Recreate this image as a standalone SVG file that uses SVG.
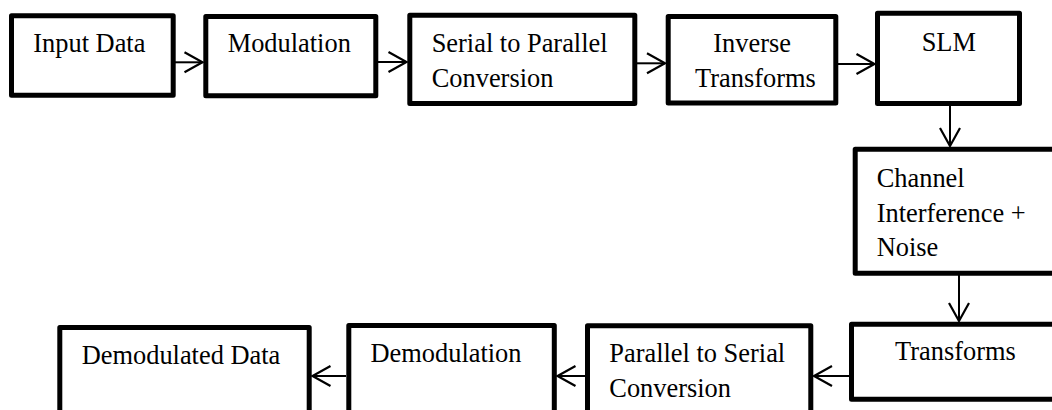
<svg xmlns="http://www.w3.org/2000/svg" width="1052" height="410" viewBox="0 0 1052 410">
<style>
.box{fill:#fff;stroke:#000;stroke-width:5;stroke-linejoin:round}
.lbl{font-family:"Liberation Serif","Times New Roman",serif;font-size:26.4px;fill:#000}
.con{stroke:#000;stroke-width:2;fill:none}
</style>
<defs>
<marker id="ah" markerUnits="userSpaceOnUse" markerWidth="24" markerHeight="24" viewBox="-20 -12 22 24" refX="0" refY="0" orient="auto">
<path d="M-18,-10 L0,0 L-18,10" fill="none" stroke="#000" stroke-width="2.2"/>
</marker>
</defs>
<rect width="1052" height="410" fill="#fff"/>
<g id="connectors">
<line class="con" x1="175" y1="62.3" x2="202.5" y2="62.3" marker-end="url(#ah)"/>
<line class="con" x1="378" y1="62" x2="406.5" y2="62" marker-end="url(#ah)"/>
<line class="con" x1="637" y1="63.3" x2="665" y2="63.3" marker-end="url(#ah)"/>
<line class="con" x1="838" y1="64" x2="874.5" y2="64" marker-end="url(#ah)"/>
<line class="con" x1="950" y1="106" x2="950" y2="146" marker-end="url(#ah)"/>
<line class="con" x1="959" y1="275" x2="959" y2="321" marker-end="url(#ah)"/>
<line class="con" x1="849" y1="376" x2="814" y2="376" marker-end="url(#ah)"/>
<line class="con" x1="585" y1="376" x2="557.5" y2="376" marker-end="url(#ah)"/>
<line class="con" x1="346" y1="376" x2="312.5" y2="376" marker-end="url(#ah)"/>
</g>
<g id="n1"><rect class="box" x="11.5" y="15.8" width="161.7" height="79.4"/><text class="lbl" x="33.3" y="52.3">Input Data</text></g>
<g id="n2"><rect class="box" x="205.8" y="16.5" width="170" height="79.3"/><text class="lbl" x="227.7" y="52.3">Modulation</text></g>
<g id="n3"><rect class="box" x="409.8" y="15.2" width="225" height="88.3"/><text class="lbl" x="431.7" y="51.7">Serial to Parallel</text><text class="lbl" x="431.7" y="87.3">Conversion</text></g>
<g id="n4"><rect class="box" x="668.2" y="16.5" width="167.6" height="86.5"/><text class="lbl" x="713.3" y="51.7">Inverse</text><text class="lbl" x="695" y="87.3">Transforms</text></g>
<g id="n5"><rect class="box" x="877.5" y="13.2" width="142" height="90.3"/><text class="lbl" x="921.7" y="50.7">SLM</text></g>
<g id="n6"><rect class="box" x="855.2" y="149.2" width="250" height="124"/><text class="lbl" x="876.7" y="186.7">Channel</text><text class="lbl" x="876.7" y="221.7">Interference +</text><text class="lbl" x="876.7" y="256">Noise</text></g>
<g id="n7"><rect class="box" x="851.5" y="324.2" width="250" height="75"/><text class="lbl" x="895" y="360">Transforms</text></g>
<g id="n8"><rect class="box" x="587.5" y="325.8" width="223.3" height="150"/><text class="lbl" x="609.3" y="361.7">Parallel to Serial</text><text class="lbl" x="609.3" y="396.7">Conversion</text></g>
<g id="n9"><rect class="box" x="348.8" y="325.5" width="205.5" height="150"/><text class="lbl" x="370.5" y="361.5">Demodulation</text></g>
<g id="n10"><rect class="box" x="59.8" y="327.5" width="249.4" height="150"/><text class="lbl" x="81.7" y="364.3">Demodulated Data</text></g>
</svg>
